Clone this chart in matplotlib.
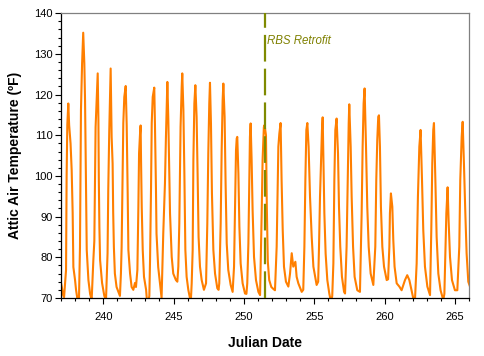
import matplotlib
matplotlib.use("Agg")
import matplotlib.pyplot as plt
from matplotlib.ticker import MultipleLocator

plt.rcParams['font.family'] = ['Liberation Sans', 'DejaVu Sans']

julian_day = [
    237.00, 237.07, 237.14, 237.22, 237.36, 237.40, 237.45, 237.52, 237.58, 237.68,
    237.76, 237.83, 237.88, 238.00, 238.07, 238.20, 238.28, 238.35, 238.42, 238.50,
    238.58, 238.66, 238.71, 238.78, 238.83, 238.95, 239.07, 239.18, 239.30, 239.37,
    239.46, 239.53, 239.61, 239.66, 239.69, 239.73, 239.78, 239.92, 240.08, 240.20,
    240.31, 240.36, 240.43, 240.53, 240.60, 240.67, 240.71, 240.76, 240.83, 240.95,
    241.19, 241.26, 241.31, 241.38, 241.43, 241.50, 241.60, 241.67, 241.74, 241.79,
    241.91, 242.02, 242.14, 242.26, 242.33, 242.43, 242.50, 242.55, 242.62, 242.66,
    242.69, 242.74, 242.81, 242.90, 243.05, 243.14, 243.28, 243.33, 243.40, 243.45,
    243.52, 243.63, 243.68, 243.75, 243.79, 243.91, 244.03, 244.15, 244.27, 244.39,
    244.46, 244.56, 244.63, 244.75, 244.87, 244.98, 245.17, 245.27, 245.34, 245.41,
    245.50, 245.58, 245.62, 245.70, 245.77, 245.84, 245.93, 246.05, 246.17, 246.22,
    246.29, 246.36, 246.41, 246.48, 246.55, 246.64, 246.71, 246.78, 246.88, 247.00,
    247.16, 247.31, 247.40, 247.47, 247.54, 247.59, 247.66, 247.73, 247.83, 247.95,
    248.11, 248.20, 248.25, 248.35, 248.42, 248.49, 248.54, 248.63, 248.70, 248.78,
    248.89, 249.06, 249.20, 249.30, 249.37, 249.44, 249.49, 249.53, 249.61, 249.68,
    249.77, 249.91, 250.08, 250.18, 250.24, 250.32, 250.39, 250.43, 250.48, 250.55,
    250.62, 250.72, 250.86, 251.03, 251.15, 251.26, 251.33, 251.42, 251.47, 251.57,
    251.63, 251.70, 251.80, 251.95, 252.10, 252.21, 252.33, 252.45, 252.52, 252.61,
    252.68, 252.76, 252.85, 252.99, 253.16, 253.28, 253.40, 253.51, 253.66, 253.75,
    253.87, 254.11, 254.22, 254.30, 254.37, 254.44, 254.51, 254.60, 254.70, 254.82,
    254.94, 255.17, 255.28, 255.34, 255.41, 255.48, 255.55, 255.60, 255.65, 255.72,
    255.81, 255.93, 256.07, 256.19, 256.28, 256.36, 256.43, 256.50, 256.59, 256.69,
    256.76, 256.85, 256.97, 257.12, 257.19, 257.30, 257.38, 257.45, 257.49, 257.59,
    257.66, 257.76, 257.87, 258.06, 258.25, 258.37, 258.44, 258.51, 258.58, 258.68,
    258.77, 258.87, 259.01, 259.20, 259.34, 259.41, 259.48, 259.55, 259.60, 259.67,
    259.74, 259.84, 259.96, 260.15, 260.25, 260.34, 260.38, 260.45, 260.55, 260.62,
    260.71, 260.86, 261.05, 261.21, 261.45, 261.61, 261.76, 261.92, 262.04, 262.16,
    262.28, 262.37, 262.47, 262.56, 262.66, 262.75, 262.87, 263.04, 263.23, 263.32,
    263.39, 263.46, 263.51, 263.61, 263.70, 263.82, 263.98, 264.17, 264.25, 264.32,
    264.39, 264.48, 264.55, 264.65, 264.79, 265.00, 265.17, 265.31, 265.38, 265.48,
    265.55, 265.64, 265.74, 265.83, 265.95, 266.05,
]

attic_temp_f = [
    73.7, 72.5, 70.8, 70.2, 76.9, 99.8, 112.6, 117.8, 112.5, 108.0,
    101.4, 90.9, 77.6, 74.4, 72.0, 69.0, 70.0, 82.5, 116.2, 127.6,
    135.2, 127.6, 118.6, 97.0, 81.8, 74.4, 71.0, 69.5, 79.3, 84.0,
    112.0, 118.0, 125.2, 113.7, 99.0, 87.4, 79.3, 73.7, 70.5, 69.5,
    81.0, 96.5, 110.9, 126.4, 109.6, 103.0, 91.1, 82.5, 76.0, 72.7,
    70.5, 76.0, 82.5, 99.8, 113.0, 119.4, 122.1, 112.5, 95.8, 81.8,
    76.0, 72.7, 72.0, 73.7, 72.7, 76.9, 92.3, 105.6, 110.5, 112.4,
    103.9, 92.3, 81.8, 75.2, 72.0, 68.0, 70.5, 79.3, 97.0, 113.0,
    119.4, 121.7, 112.5, 97.0, 85.8, 77.6, 73.7, 70.0, 85.9, 98.2,
    109.6, 123.1, 113.7, 90.8, 80.1, 76.0, 74.4, 74.0, 77.7, 88.3,
    112.1, 121.9, 125.2, 116.2, 100.6, 81.8, 75.2, 72.0, 69.9, 68.5,
    73.6, 81.8, 103.9, 117.8, 122.3, 114.5, 100.6, 85.0, 77.7, 74.4,
    72.0, 73.6, 88.3, 105.5, 117.8, 122.9, 112.9, 95.7, 81.8, 76.0,
    72.4, 72.0, 73.6, 88.3, 106.3, 118.6, 122.7, 114.5, 98.2, 83.4,
    76.9, 73.2, 71.5, 77.7, 91.6, 106.3, 109.2, 109.6, 100.6, 87.5,
    78.5, 73.6, 71.1, 71.0, 73.6, 83.4, 99.8, 109.6, 112.9, 103.9,
    91.6, 80.1, 74.4, 71.5, 70.7, 90.0, 104.0, 112.0, 112.5, 110.0,
    92.4, 79.0, 74.4, 72.7, 72.2, 71.9, 82.6, 107.2, 110.4, 113.0,
    99.0, 86.7, 77.7, 74.0, 72.8, 76.0, 81.0, 77.7, 78.9, 75.2,
    73.6, 71.5, 72.0, 82.6, 99.0, 111.3, 113.0, 107.2, 94.9, 85.0,
    77.7, 73.2, 74.0, 82.6, 94.9, 103.1, 111.3, 114.4, 104.7, 90.8,
    80.9, 74.4, 71.1, 69.0, 70.5, 78.5, 99.0, 111.3, 114.1, 105.5,
    92.4, 82.6, 75.2, 71.5, 71.1, 82.6, 99.0, 112.9, 117.6, 107.2,
    94.9, 82.6, 75.2, 71.9, 71.5, 90.8, 107.2, 117.8, 121.5, 107.2,
    92.4, 82.6, 76.0, 73.2, 82.6, 99.0, 108.8, 114.5, 114.9, 107.2,
    92.4, 82.6, 77.7, 74.4, 74.6, 82.6, 90.8, 95.7, 92.4, 84.2,
    77.7, 73.6, 72.8, 71.9, 74.4, 75.6, 74.4, 71.9, 69.9, 69.5,
    78.5, 94.9, 107.2, 111.3, 99.0, 86.7, 77.7, 72.8, 70.7, 86.7,
    103.1, 111.3, 113.0, 99.0, 85.0, 76.0, 71.9, 69.5, 71.0, 81.0,
    90.8, 97.2, 89.1, 80.1, 74.4, 71.9, 71.9, 82.6, 99.0, 109.6,
    113.3, 103.1, 90.8, 81.0, 74.0, 73.0,
]

retrofit_day = 251.5
retrofit_label = "RBS Retrofit"
x_ticks = [240, 245, 250, 255, 260, 265]
y_ticks = [70, 80, 90, 100, 110, 120, 130, 140]

fig = plt.figure(figsize=(4.84, 3.56), dpi=100)
ax = fig.add_axes([0.126, 0.163, 0.843, 0.800])

ax.plot(julian_day, attic_temp_f, color='#FF7F00', lw=1.5, zorder=2)
ax.axvline(retrofit_day, color='#7F8A00', lw=1.6, dashes=(12, 3.2), zorder=3)
ax.text(retrofit_day + 0.12, 133.2, retrofit_label, color='#7F8000',
        fontsize=8.3, style='italic', va='center', ha='left')

ax.set_xlim(237, 266)
ax.set_ylim(70, 140)
ax.set_xticks(x_ticks)
ax.set_yticks(y_ticks)
ax.xaxis.set_minor_locator(MultipleLocator(1))
ax.yaxis.set_minor_locator(MultipleLocator(2))
ax.tick_params(axis='both', which='major', direction='out', length=4, width=0.8,
               labelsize=8, colors='black')
ax.tick_params(axis='both', which='minor', direction='out', length=2.2, width=0.8)
ax.tick_params(axis='x', which='major', pad=6)
ax.tick_params(axis='y', which='major', pad=2)

for s in ['left', 'bottom']:
    ax.spines[s].set_color('black')
    ax.spines[s].set_linewidth(0.9)
for s in ['top', 'right']:
    ax.spines[s].set_color('#808080')
    ax.spines[s].set_linewidth(0.9)

ax.set_xlabel('Julian Date', fontsize=10, fontweight='bold', labelpad=10)
ax.set_ylabel('Attic Air Temperature (ºF)', fontsize=10, fontweight='bold', labelpad=9)

fig.savefig('out.png', dpi=100)
